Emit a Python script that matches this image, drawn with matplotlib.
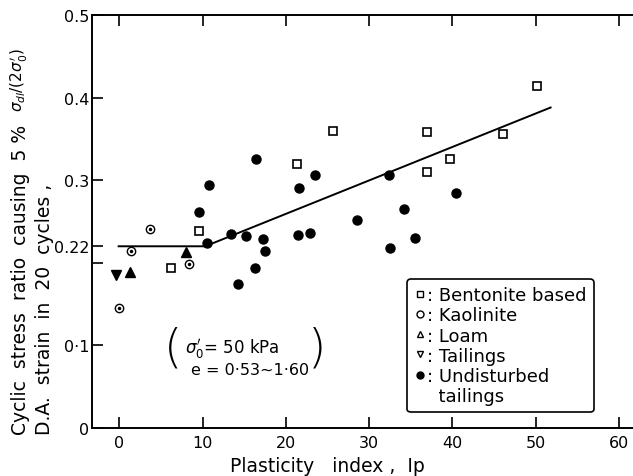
import matplotlib
matplotlib.use("Agg")
import matplotlib.pyplot as plt
from matplotlib.lines import Line2D

# Cyclic stress ratio vs plasticity index
bent_ip  = [6.2, 9.6, 21.3, 25.7, 37.0, 37.0, 39.7, 46.1, 50.2]
bent_csr = [0.194, 0.238, 0.320, 0.359, 0.358, 0.310, 0.326, 0.356, 0.414]

kaol_ip  = [-0.1, 1.4, 3.7, 8.35]
kaol_csr = [0.145, 0.214, 0.241, 0.198]

loam_ip  = [1.3, 8.0]
loam_csr = [0.189, 0.213]

tail_ip  = [-0.4]
tail_csr = [0.185]

und_ip  = [9.5, 10.7, 10.55, 13.4, 14.3, 15.2, 16.25, 16.4, 17.3, 17.45,
           21.45, 21.6, 22.9, 23.5, 28.5, 32.4, 32.5, 34.2, 35.5, 40.4]
und_csr = [0.262, 0.294, 0.224, 0.235, 0.174, 0.233, 0.194, 0.326, 0.229, 0.214,
           0.234, 0.291, 0.236, 0.306, 0.252, 0.306, 0.218, 0.265, 0.230, 0.284]

# bilinear trend line
line_ip  = [-0.1, 10.3, 51.8]
line_csr = [0.22, 0.22, 0.388]

y_ticks  = [0, 0.1, 0.2, 0.22, 0.3, 0.4, 0.5]
y_labels = ["0", "0·1", "", "0.22", "0.3", "0.4", "0.5"]
x_ticks  = [0, 10, 20, 30, 40, 50, 60]

plt.rcParams["font.family"] = "DejaVu Sans"

fig = plt.figure(figsize=(6.33, 4.77), dpi=100)
ax = fig.add_axes([92 / 633, 1 - 429 / 477, 541 / 633, 413 / 477])

ax.plot(line_ip, line_csr, color="black", linewidth=1.4, zorder=2)

ax.plot(bent_ip, bent_csr, linestyle="none", marker="s", markersize=6,
        markerfacecolor="white", markeredgecolor="black", markeredgewidth=1.2, zorder=3)
ax.plot(kaol_ip, kaol_csr, linestyle="none", marker="o", markersize=6,
        markerfacecolor="white", markeredgecolor="black", markeredgewidth=1.0, zorder=3)
ax.plot(kaol_ip, kaol_csr, linestyle="none", marker="o", markersize=1.5,
        color="black", zorder=4)
ax.plot(loam_ip, loam_csr, linestyle="none", marker="^", markersize=6.5,
        color="black", zorder=3)
ax.plot(tail_ip, tail_csr, linestyle="none", marker="v", markersize=7,
        color="black", zorder=3)
ax.plot(und_ip, und_csr, linestyle="none", marker="o", markersize=6.5,
        color="black", zorder=3)

ax.set_xlim(-3.3, 61.7)
ax.set_ylim(0, 0.5)
ax.set_xticks(x_ticks)
ax.set_yticks(y_ticks)
ax.set_yticklabels(y_labels)
ax.tick_params(axis="both", direction="in", length=8, width=1.2, labelsize=11.5,
               top=True, right=False, pad=5)
ax.tick_params(axis="y", pad=2)
ax.spines["right"].set_visible(False)
for side in ["left", "top", "bottom"]:
    ax.spines[side].set_linewidth(1.4)

# condition annotation in big brackets
ax.text(7.6, 0.098, "(", fontsize=34, va="center", ha="right", fontweight="light")
ax.text(22.6, 0.098, ")", fontsize=34, va="center", ha="left", fontweight="light")
ax.text(7.9, 0.097, r"$\sigma_0'$= 50 kPa", fontsize=12, va="center", ha="left")
ax.text(8.6, 0.071, "e = 0·53~1·60", fontsize=11.5, va="center", ha="left")

# legend drawn with marker + colon style
handles = [
    Line2D([], [], linestyle="none", marker="s", markersize=5,
           markerfacecolor="white", markeredgecolor="black"),
    Line2D([], [], linestyle="none", marker="o", markersize=5,
           markerfacecolor="white", markeredgecolor="black"),
    Line2D([], [], linestyle="none", marker="^", markersize=5,
           markerfacecolor="white", markeredgecolor="black"),
    Line2D([], [], linestyle="none", marker="v", markersize=5,
           markerfacecolor="white", markeredgecolor="black"),
    Line2D([], [], linestyle="none", marker="o", markersize=5, color="black"),
    Line2D([], [], linestyle="none"),
]
labels = [": Bentonite based", ": Kaolinite", ": Loam", ": Tailings",
          ": Undisturbed", "  tailings"]
leg = ax.legend(handles, labels, loc="lower left", bbox_to_anchor=(0.583, 0.038),
                fontsize=13, frameon=True, fancybox=True, handlelength=0.6,
                handletextpad=0.1, labelspacing=0.12, borderpad=0.4,
                borderaxespad=0, framealpha=1)
leg.get_frame().set_edgecolor("black")
leg.get_frame().set_linewidth(1.2)

fig.text(230 / 633, 1 - 457 / 477, "Plasticity   index ,  Ip",
         ha="left", va="top", fontsize=13.5)

fig.text(21 / 633, 1 - 435 / 477, "Cyclic  stress  ratio  causing  5 %",
         rotation=90, ha="center", va="bottom", fontsize=13.5)
fig.text(19 / 633, 1 - 112 / 477, r"$\sigma_{dl}/(2\sigma_0')$",
         rotation=90, ha="center", va="bottom", fontsize=11)
fig.text(45 / 633, 1 - 435 / 477, "D.A.  strain  in  20  cycles ,",
         rotation=90, ha="center", va="bottom", fontsize=13.5)

fig.savefig("out.png", dpi=100)
